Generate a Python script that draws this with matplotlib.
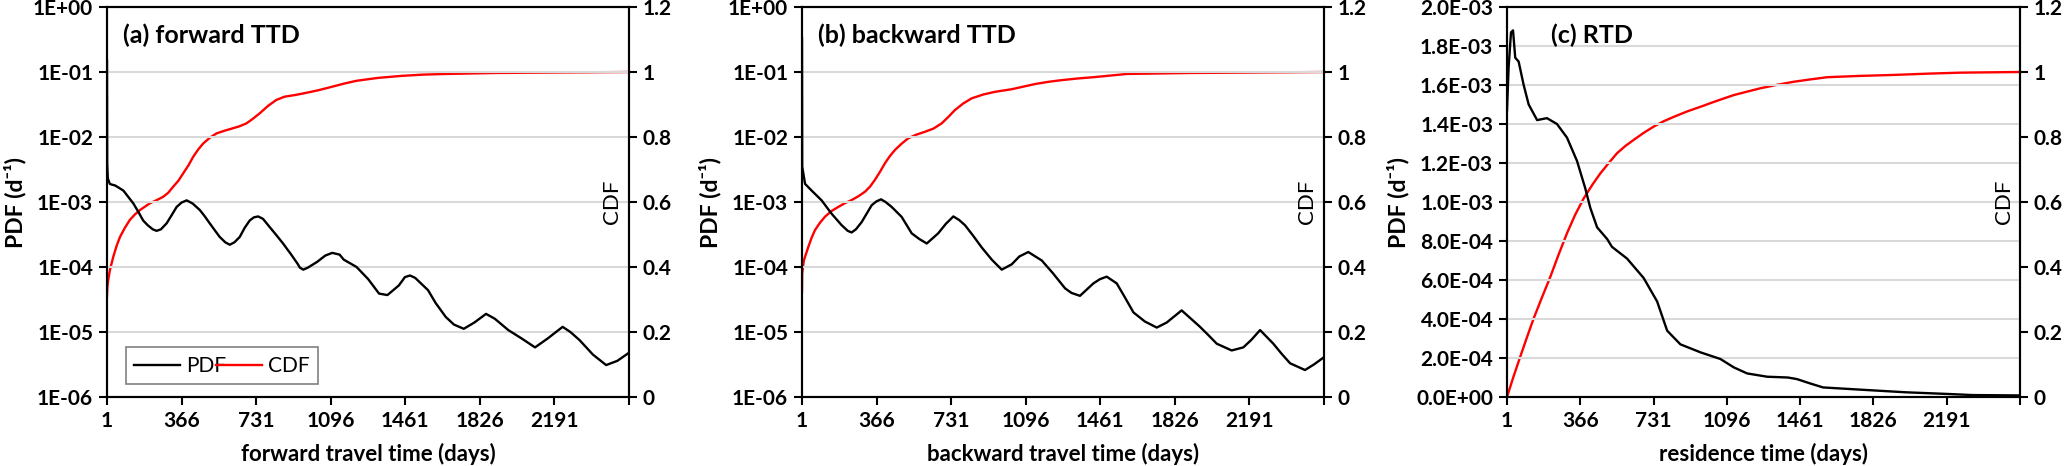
import matplotlib
matplotlib.use('Agg')
import matplotlib.pyplot as plt
from matplotlib.lines import Line2D

plt.rcParams['font.family'] = ['Lato', 'DejaVu Sans']

# ---- data ----
# (a) forward TTD
days_a = [1, 2, 5, 15, 25, 40, 60, 81, 105, 130, 155, 178, 200, 225, 244, 265, 293, 318,
          342, 366, 391, 420, 456, 480, 504, 528, 553, 580, 602, 625, 651, 675, 700, 720,
          741, 765, 798, 830, 863, 900, 936, 945, 962, 985, 1030, 1070, 1104, 1140, 1160,
          1223, 1280, 1333, 1374, 1430, 1460, 1485, 1510, 1573, 1610, 1660, 1700, 1748,
          1800, 1857, 1900, 1966, 2030, 2097, 2160, 2232, 2270, 2315, 2380, 2445, 2500, 2557]
pdf_a = [1.5e-1, 3.9e-3, 2.3e-3, 1.9e-3, 1.85e-3, 1.8e-3, 1.65e-3, 1.5e-3, 1.2e-3, 9.5e-4,
         7.0e-4, 5.2e-4, 4.4e-4, 3.8e-4, 3.6e-4, 3.8e-4, 4.7e-4, 6.3e-4, 8.4e-4, 9.8e-4,
         1.06e-3, 9.5e-4, 7.5e-4, 6.0e-4, 4.7e-4, 3.7e-4, 2.9e-4, 2.4e-4, 2.2e-4, 2.4e-4,
         2.9e-4, 4.0e-4, 5.2e-4, 5.8e-4, 6.0e-4, 5.5e-4, 4.1e-4, 3.1e-4, 2.3e-4, 1.6e-4,
         1.1e-4, 9.8e-5, 9.1e-5, 9.8e-5, 1.2e-4, 1.5e-4, 1.65e-4, 1.55e-4, 1.3e-4, 1.0e-4,
         6.5e-5, 3.9e-5, 3.7e-5, 5.2e-5, 7.0e-5, 7.4e-5, 6.8e-5, 4.4e-5, 2.8e-5, 1.7e-5,
         1.3e-5, 1.12e-5, 1.4e-5, 1.9e-5, 1.6e-5, 1.07e-5, 8.0e-6, 5.8e-6, 8.0e-6, 1.2e-5,
         1.0e-5, 7.5e-6, 4.5e-6, 3.1e-6, 3.6e-6, 4.8e-6]
cdf_days_a = [1, 3, 7, 15, 32, 48, 65, 88, 113, 138, 162, 190, 211, 245, 276, 300, 325, 350,
              374, 400, 423, 448, 472, 505, 537, 580, 618, 650, 684, 715, 749, 790, 830, 870,
              920, 962, 1030, 1093, 1160, 1223, 1330, 1442, 1550, 1660, 1900, 2097, 2557]
cdf_a = [0.31, 0.34, 0.36, 0.39, 0.432, 0.465, 0.493, 0.52, 0.545, 0.562, 0.575, 0.587,
         0.596, 0.606, 0.616, 0.628, 0.647, 0.665, 0.688, 0.713, 0.739, 0.762, 0.78, 0.798,
         0.811, 0.82, 0.827, 0.833, 0.842, 0.856, 0.873, 0.896, 0.914, 0.924, 0.929, 0.934,
         0.943, 0.953, 0.964, 0.973, 0.982, 0.988, 0.992, 0.994, 0.997, 0.998, 1.0]

# (b) backward TTD
days_b = [1, 2, 16, 48, 97, 146, 195, 225, 244, 265, 293, 342, 365, 388, 410, 440, 489, 538,
          575, 612, 668, 705, 742, 770, 799, 840, 881, 930, 979, 1028, 1065, 1109, 1175,
          1230, 1289, 1320, 1362, 1428, 1460, 1493, 1542, 1580, 1624, 1680, 1738, 1787,
          1820, 1860, 1950, 1990, 2032, 2105, 2162, 2200, 2244, 2309, 2350, 2391, 2464,
          2510, 2557]
pdf_b = [3.3e-1, 3.5e-3, 1.9e-3, 1.5e-3, 1.06e-3, 6.6e-4, 4.4e-4, 3.6e-4, 3.4e-4, 3.8e-4,
         4.9e-4, 8.9e-4, 1.02e-3, 1.1e-3, 1.0e-3, 8.4e-4, 5.9e-4, 3.3e-4, 2.7e-4, 2.3e-4,
         3.3e-4, 4.6e-4, 6.0e-4, 5.3e-4, 4.4e-4, 3.0e-4, 2.0e-4, 1.3e-4, 9.1e-5, 1.1e-4,
         1.45e-4, 1.7e-4, 1.26e-4, 8.0e-5, 4.7e-5, 4.0e-5, 3.6e-5, 5.6e-5, 6.5e-5, 7.1e-5,
         5.6e-5, 3.5e-5, 2.0e-5, 1.45e-5, 1.17e-5, 1.4e-5, 1.7e-5, 2.15e-5, 1.2e-5, 9.0e-6,
         6.6e-6, 5.2e-6, 5.8e-6, 7.5e-6, 1.07e-5, 6.6e-6, 4.6e-6, 3.3e-6, 2.6e-6, 3.2e-6,
         4.1e-6]
cdf_days_b = [1, 2, 10, 32, 48, 65, 90, 114, 145, 179, 210, 244, 278, 310, 335, 358, 383,
              407, 431, 456, 488, 521, 560, 603, 645, 685, 718, 750, 790, 832, 890, 946,
              1028, 1085, 1142, 1210, 1273, 1350, 1428, 1510, 1591, 1900, 2557]
cdf_b = [0.324, 0.38, 0.42, 0.462, 0.49, 0.514, 0.537, 0.555, 0.572, 0.585, 0.596, 0.606,
         0.618, 0.632, 0.648, 0.668, 0.693, 0.719, 0.741, 0.76, 0.779, 0.796, 0.807, 0.816,
         0.826, 0.842, 0.862, 0.883, 0.903, 0.919, 0.931, 0.939, 0.947, 0.955, 0.963, 0.97,
         0.975, 0.98, 0.984, 0.989, 0.994, 0.997, 1.0]

# (c) RTD
days_c = [1, 9, 21, 31, 42, 59, 84, 109, 151, 200, 250, 300, 350, 391, 416, 450, 500, 524,
          599, 682, 749, 799, 865, 965, 1064, 1131, 1197, 1297, 1400, 1445, 1510, 1576,
          1773, 1991, 2210, 2319, 2557]
pdf_c = [1.47e-3, 1.69e-3, 1.87e-3, 1.88e-3, 1.74e-3, 1.72e-3, 1.60e-3, 1.50e-3, 1.42e-3,
         1.43e-3, 1.40e-3, 1.33e-3, 1.21e-3, 1.07e-3, 9.7e-4, 8.7e-4, 8.1e-4, 7.7e-4,
         7.1e-4, 6.1e-4, 4.9e-4, 3.4e-4, 2.7e-4, 2.29e-4, 1.95e-4, 1.52e-4, 1.21e-4,
         1.04e-4, 1.0e-4, 9.2e-5, 7.0e-5, 4.9e-5, 3.7e-5, 2.4e-5, 1.5e-5, 1.0e-5, 8.0e-6]
cdf_days_c = [1, 33, 67, 100, 134, 175, 217, 258, 300, 340, 383, 425, 466, 508, 549, 590,
              632, 680, 732, 780, 832, 900, 965, 1050, 1131, 1200, 1264, 1350, 1430, 1510,
              1597, 1760, 1929, 2100, 2261, 2557]
cdf_c = [0.0, 0.062, 0.124, 0.183, 0.242, 0.306, 0.37, 0.438, 0.504, 0.56, 0.611, 0.652,
         0.688, 0.72, 0.75, 0.772, 0.791, 0.812, 0.832, 0.848, 0.862, 0.879, 0.893, 0.912,
         0.929, 0.94, 0.95, 0.961, 0.97, 0.977, 0.984, 0.988, 0.991, 0.995, 0.998, 1.0]

x_ticks = [1, 366, 731, 1096, 1461, 1826, 2191, 2557]
x_labels = ['1', '366', '731', '1096', '1461', '1826', '2191', '']
log_ticks = [1e-6, 1e-5, 1e-4, 1e-3, 1e-2, 1e-1, 1e0]
log_labels = ['1E-06', '1E-05', '1E-04', '1E-03', '1E-02', '1E-01', '1E+00']
lin_ticks = [0, 2e-4, 4e-4, 6e-4, 8e-4, 1e-3, 1.2e-3, 1.4e-3, 1.6e-3, 1.8e-3, 2e-3]
lin_labels = ['0.0E+00', '2.0E-04', '4.0E-04', '6.0E-04', '8.0E-04', '1.0E-03',
              '1.2E-03', '1.4E-03', '1.6E-03', '1.8E-03', '2.0E-03']
cdf_ticks = [0, 0.2, 0.4, 0.6, 0.8, 1.0, 1.2]
cdf_labels = ['0', '0.2', '0.4', '0.6', '0.8', '1', '1.2']

titles = ['(a) forward TTD', '(b) backward TTD', '(c) RTD']
xlabels = ['forward travel time (days)', 'backward travel time (days)', 'residence time (days)']

W, H = 2067, 466
fig = plt.figure(figsize=(W / 100, H / 100), dpi=100)
lefts = [107, 802, 1507]
widths = [522, 522, 513]
bottom, top = 397, 7

panels = [(days_a, pdf_a, cdf_days_a, cdf_a), (days_b, pdf_b, cdf_days_b, cdf_b),
          (days_c, pdf_c, cdf_days_c, cdf_c)]

tick_fs = 15
grid_c = '#d9d9d9'
for i, (d, p, cd, c) in enumerate(panels):
    ax = fig.add_axes([lefts[i] / W, (H - bottom) / H, widths[i] / W, (bottom - top) / H])
    ax2 = ax.twinx()
    ax.plot(d, p, color='black', lw=1.7, zorder=3)
    ax2.plot(cd, c, color='#ff0000', lw=1.7)
    ax.set_zorder(ax2.get_zorder() + 1)
    ax.patch.set_visible(False)

    if i < 2:
        ax.set_yscale('log')
        ax.set_ylim(1e-6, 1)
        ax.set_yticks(log_ticks)
        ax.set_yticklabels(log_labels)
        ax.minorticks_off()
    else:
        ax.set_ylim(0, 2e-3)
        ax.set_yticks(lin_ticks)
        ax.set_yticklabels(lin_labels)
    ax.grid(axis='y', color=grid_c, lw=1.5)
    ax.set_axisbelow(True)

    ax.set_xlim(1, 2557)
    ax.set_xticks(x_ticks)
    ax.set_xticklabels(x_labels)
    ax2.set_ylim(0, 1.2)
    ax2.set_yticks(cdf_ticks)
    ax2.set_yticklabels(cdf_labels)

    for a in (ax, ax2):
        a.tick_params(direction='out', length=6, width=1.5, labelsize=tick_fs, pad=4)
        for lab in a.get_xticklabels() + a.get_yticklabels():
            lab.set_fontweight('bold')
        for s in a.spines.values():
            s.set_linewidth(1.5)
            s.set_color('black')

    ax.set_ylabel('PDF (d⁻¹)', fontsize=16.5, fontweight='bold', labelpad=5)
    ax.set_xlabel(xlabels[i], fontsize=16, fontweight='bold', labelpad=9)
    ax.text(0.968, 0.5, 'CDF', transform=ax.transAxes, rotation=90, fontsize=16,
            ha='center', va='center')
    tx = 0.03 if i < 2 else 0.085
    ax.text(tx, 0.928, titles[i], transform=ax.transAxes, fontsize=18, fontweight='bold',
            ha='left', va='center')

    if i == 0:
        handles = [Line2D([], [], color='black', lw=1.7), Line2D([], [], color='#ff0000', lw=1.7)]
        leg = ax.legend(handles, ['PDF', 'CDF'], loc='lower left', ncol=2,
                        bbox_to_anchor=(0.036, 0.033, 0.368, 0.082), mode='expand',
                        borderaxespad=0, fancybox=False, fontsize=15, handlelength=2.2,
                        handletextpad=0.3, framealpha=1)
        leg.get_frame().set_edgecolor('#808080')
        leg.get_frame().set_linewidth(1.2)

fig.savefig('out.png', dpi=100)
